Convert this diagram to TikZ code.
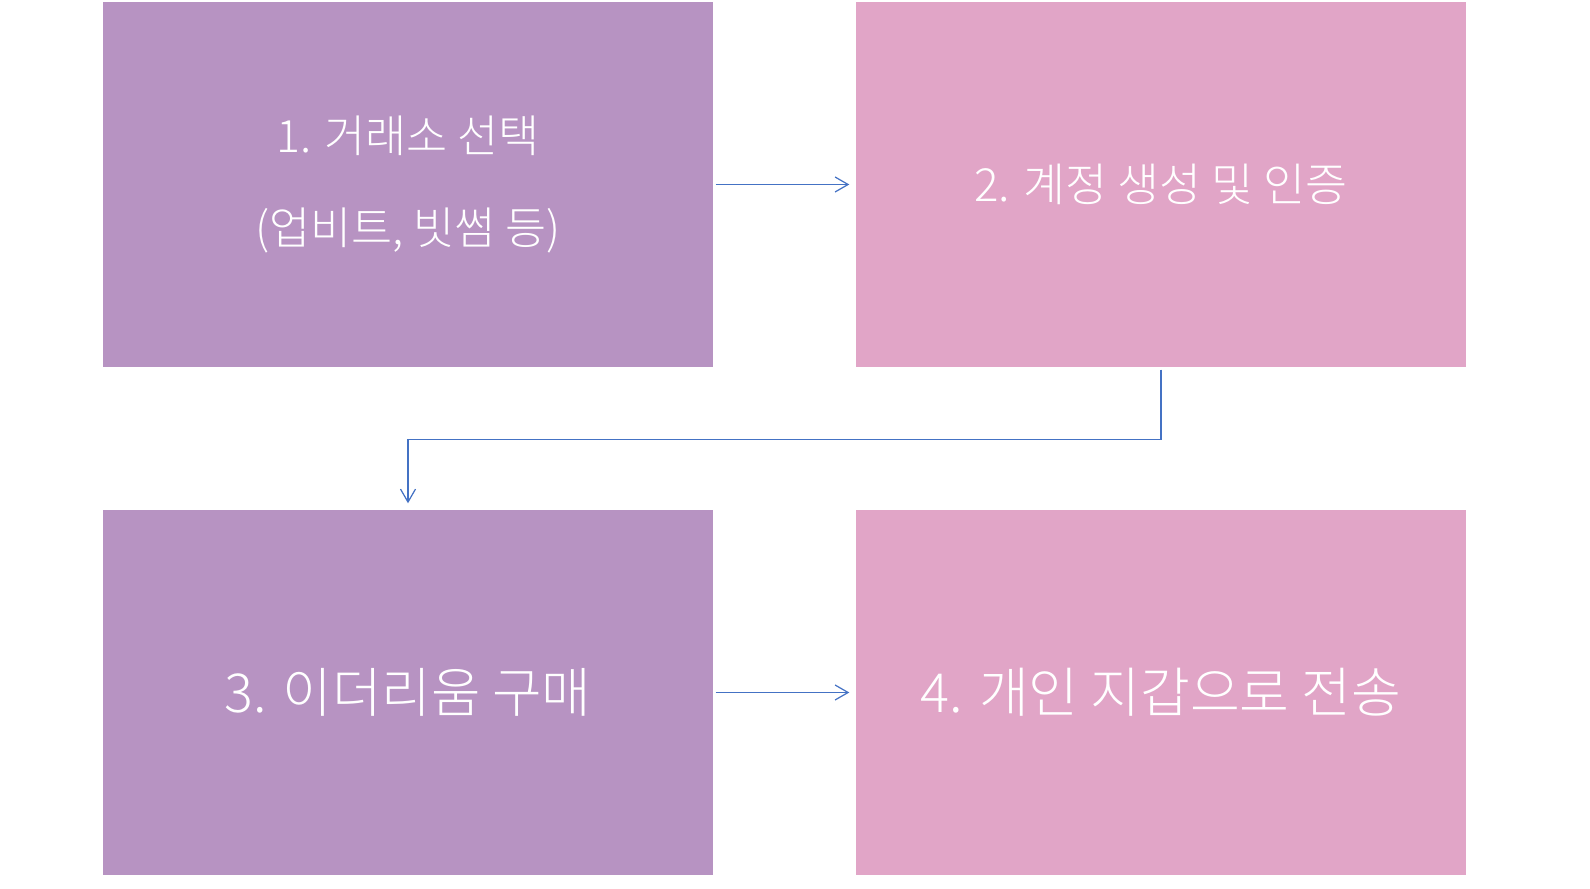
\documentclass[tikz,border=0pt]{standalone}
\usepackage{fontspec}
\setmainfont{Noto Sans CJK KR Light}
\usetikzlibrary{arrows.meta}
\definecolor{stepPurple}{HTML}{B793C2}
\definecolor{stepPink}{HTML}{E1A5C7}
\definecolor{linkBlue}{HTML}{4472C4}
\begin{document}
\begin{tikzpicture}
[boxDecorate/.style={shape=rectangle,inner sep=0pt,minimum width=6.1cm,
  minimum height=3.65cm,text=white,align=center},%
  lineDecorate/.style={draw=linkBlue,line width=0.35pt,
  -{Straight Barb[length=1.3mm,width=1.5mm]},shorten <=0.02cm,shorten >=0.06cm}]
\useasboundingbox (0,0) rectangle (15.9,8.89);
%% boxes
\foreach \nodename/\x/\y/\fillcolor/\fsize/\label in {
  box1/4.08/7.045/stepPurple/12.7/{1. 거래소 선택\\[0.48cm](업비트, 빗썸 등)},
  box2/11.61/7.045/stepPink/13/{2. 계정 생성 및 인증},
  box3/4.08/1.965/stepPurple/15.3/{3. 이더리움 구매},
  box4/11.61/1.965/stepPink/15.4/{4. 개인 지갑으로 전송}}
{
  \node (\nodename) at (\x,\y) [boxDecorate,fill=\fillcolor,
    font=\fontsize{\fsize}{\fsize}\selectfont] {\label};
}
%% arrows
\draw[lineDecorate] (box1.east) -- (box2.west);
\draw[lineDecorate] (box3.east) -- (box4.west);
\draw[lineDecorate] (box2.south) -- ++(0,-0.72) -| (box3.north);
\end{tikzpicture}
\end{document}
